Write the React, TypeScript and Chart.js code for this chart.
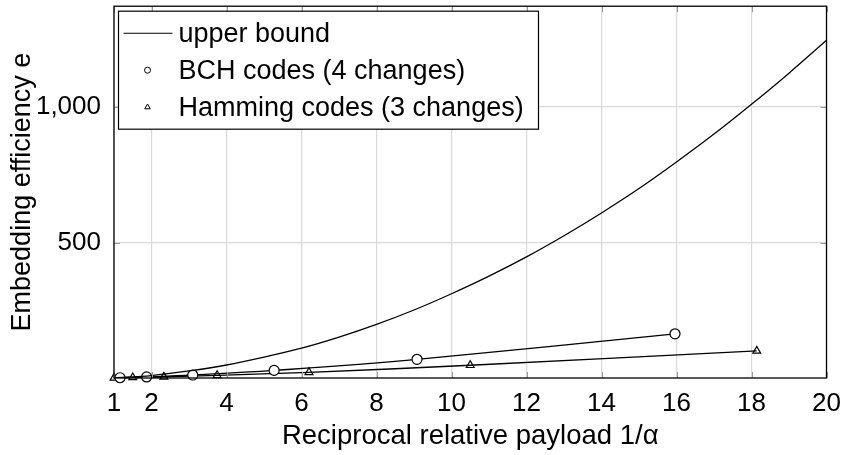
import React, { useEffect, useRef } from "react";
import { Chart, registerables } from "chart.js";

Chart.register(...registerables);

// ---- data ----
const upperX = [1, 2, 3, 4, 5, 6, 7, 8, 9, 10, 11, 12, 13, 14, 15, 16, 17, 18, 19, 20];
const upperY = [1, 9, 26, 48, 77, 110, 151, 198, 251, 311, 376, 447, 525, 609, 699, 797, 900, 1010, 1125, 1246];
const bchX = [1.16, 1.87, 3.1, 5.27, 9.08, 15.96];
const bchY = [1, 4, 11, 28, 69, 163];
const hammingX = [1, 1.5, 2.33, 3.75, 6.2, 10.5, 18.14];
const hammingY = [0.5, 2, 4, 10, 21, 47, 100];
const xTicks = [1, 2, 4, 6, 8, 10, 12, 14, 16, 18, 20];
const yTicks = [500, 1000];
const legendLabels = ["upper bound", "BCH codes (4 changes)", "Hamming codes (3 changes)"];
const xTitle = "Reciprocal relative payload 1/α";
const yTitle = "Embedding efficiency e";

const FONT = "'Liberation Sans', Arial, sans-serif";

const toPts = (xs: number[], ys: number[]) => xs.map((x, i) => ({ x, y: ys[i] }));

const decorPlugin = {
  id: "decor",
  afterDraw(chart: any) {
    const { ctx, chartArea: a, scales } = chart;
    ctx.save();
    // inner tick marks
    ctx.strokeStyle = "#9a9a9a";
    ctx.lineWidth = 1;
    const tl = 6;
    xTicks.forEach((t) => {
      const px = Math.round(scales.x.getPixelForValue(t)) + 0.5;
      ctx.beginPath();
      ctx.moveTo(px, a.top);
      ctx.lineTo(px, a.top + tl);
      ctx.moveTo(px, a.bottom);
      ctx.lineTo(px, a.bottom - tl);
      ctx.stroke();
    });
    yTicks.forEach((t) => {
      const py = Math.round(scales.y.getPixelForValue(t)) + 0.5;
      ctx.beginPath();
      ctx.moveTo(a.left, py);
      ctx.lineTo(a.left + tl, py);
      ctx.moveTo(a.right, py);
      ctx.lineTo(a.right - tl, py);
      ctx.stroke();
    });
    // frame
    ctx.strokeStyle = "#000";
    ctx.lineWidth = 1.3;
    ctx.strokeRect(a.left, a.top, a.right - a.left, a.bottom - a.top);

    // legend
    const lx = a.left + 4.5;
    const ly = a.top + 5;
    const lw = 420;
    const lh = 118;
    ctx.fillStyle = "#fff";
    ctx.fillRect(lx, ly, lw, lh);
    ctx.strokeStyle = "#000";
    ctx.lineWidth = 1.2;
    ctx.strokeRect(lx, ly, lw, lh);
    const rows = [ly + 22, ly + 59, ly + 96];
    const mx = lx + 29;
    // line sample
    ctx.beginPath();
    ctx.lineWidth = 1.1;
    ctx.moveTo(lx + 5, rows[0]);
    ctx.lineTo(lx + 54, rows[0]);
    ctx.stroke();
    // circle sample
    ctx.beginPath();
    ctx.lineWidth = 1;
    ctx.arc(mx, rows[1], 3, 0, Math.PI * 2);
    ctx.fillStyle = "#fff";
    ctx.fill();
    ctx.stroke();
    // triangle sample
    ctx.beginPath();
    const r = 3.2;
    ctx.moveTo(mx, rows[2] - r);
    ctx.lineTo(mx + r * 0.87, rows[2] + r * 0.5);
    ctx.lineTo(mx - r * 0.87, rows[2] + r * 0.5);
    ctx.closePath();
    ctx.stroke();
    // texts
    ctx.fillStyle = "#000";
    ctx.font = `27px ${FONT}`;
    ctx.textBaseline = "middle";
    ctx.textAlign = "left";
    legendLabels.forEach((lab, i) => {
      ctx.fillText(lab, lx + 60, rows[i] + 1);
    });
    ctx.restore();
  },
};

export default function App() {
  const ref = useRef<HTMLCanvasElement | null>(null);

  useEffect(() => {
    if (!ref.current) return;
    const chart = new Chart(ref.current, {
      type: "line",
      data: {
        datasets: [
          {
            label: legendLabels[0],
            data: toPts(upperX, upperY),
            borderColor: "#000",
            borderWidth: 1.3,
            pointRadius: 0,
            tension: 0.4,
            cubicInterpolationMode: "monotone",
            fill: false,
          },
          {
            label: legendLabels[1],
            data: toPts(bchX, bchY),
            borderColor: "#000",
            borderWidth: 1.3,
            pointRadius: 5,
            pointStyle: "circle",
            pointBackgroundColor: "#fff",
            pointBorderColor: "#000",
            pointBorderWidth: 1.2,
            tension: 0.4,
            fill: false,
            clip: 10,
          },
          {
            label: legendLabels[2],
            data: toPts(hammingX, hammingY),
            borderColor: "#000",
            borderWidth: 1.3,
            pointRadius: 4.5,
            pointStyle: "triangle",
            pointBackgroundColor: "rgba(255,255,255,0)",
            pointBorderColor: "#000",
            pointBorderWidth: 1.2,
            tension: 0.4,
            fill: false,
            clip: 10,
          },
        ] as any,
      },
      options: {
        animation: false,
        responsive: true,
        maintainAspectRatio: false,
        layout: { padding: { left: 0, top: 6, right: 14.5, bottom: 0 } },
        plugins: { legend: { display: false }, tooltip: { enabled: false } },
        scales: {
          x: {
            type: "linear",
            min: 1,
            max: 20,
            afterBuildTicks: (s: any) => {
              s.ticks = xTicks.map((v) => ({ value: v }));
            },
            afterFit: (s: any) => {
              s.height = 77;
              s.paddingLeft = 0;
              s.paddingRight = 0;
            },
            grid: { color: "#d9d9d9", lineWidth: 1.2, drawTicks: false },
            border: { display: false },
            ticks: {
              color: "#000",
              font: { family: FONT, size: 26 },
              padding: 10,
              maxRotation: 0,
              autoSkip: false,
              callback: (v: any) => String(v),
            },
            title: {
              display: true,
              text: xTitle,
              color: "#000",
              font: { family: FONT, size: 27.5 },
              padding: { top: 0, bottom: 2 },
            },
          },
          y: {
            type: "linear",
            min: 0,
            max: 1372,
            afterBuildTicks: (s: any) => {
              s.ticks = yTicks.map((v) => ({ value: v }));
            },
            afterFit: (s: any) => {
              s.width = 114;
              s.paddingTop = 0;
              s.paddingBottom = 0;
            },
            grid: { color: "#d9d9d9", lineWidth: 1.2, drawTicks: false },
            border: { display: false },
            ticks: {
              color: "#000",
              font: { family: FONT, size: 26 },
              padding: 13,
              callback: (v: any) => Number(v).toLocaleString("en-US"),
            },
            title: {
              display: true,
              text: yTitle,
              color: "#000",
              font: { family: FONT, size: 27 },
              padding: { top: 6, bottom: 0 },
            },
          },
        },
      },
      plugins: [decorPlugin],
    } as any);
    return () => chart.destroy();
  }, []);

  return (
    <div style={{ position: "absolute", left: 0, top: 0, width: 841, height: 455 }}>
      <canvas ref={ref} />
    </div>
  );
}
